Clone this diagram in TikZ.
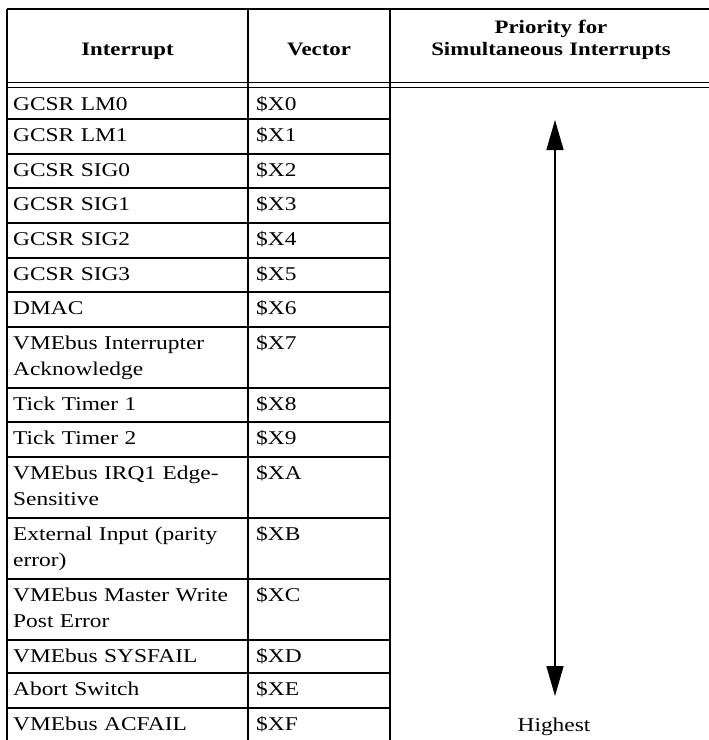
\documentclass[tikz,border=0pt]{standalone}
\usepackage{fontspec}
\setmainfont{Liberation Serif}[FakeStretch=1.2]
\usetikzlibrary{arrows.meta}
\tikzset{bigtip/.tip={Triangle[width=17pt,length=30pt]}}
\begin{document}
\begin{tikzpicture}[x=1pt,y=-1pt,
  rule/.style={line width=1.4pt},
  cell/.style={anchor=base west, inner sep=0pt, text width=232pt, align=left, font=\fontsize{19.5}{26}\selectfont},
  vcell/.style={anchor=base west, inner sep=0pt, font=\fontsize{19.5}{26}\selectfont},
  head/.style={anchor=base, inner sep=0pt, text width=320pt, align=center, font=\fontsize{19}{21.5}\selectfont\bfseries},
]
\useasboundingbox (0,0) rectangle (709,740);
% frame
\draw[rule] (7,9) -- (709,9);
\draw[line width=1.1pt] (7,82.5) -- (709,82.5);
\draw[line width=1.1pt] (7,87.5) -- (709,87.5);
\draw[rule] (7,9) -- (7,740);
\draw[rule] (248,9) -- (248,740);
\draw[rule] (390,9) -- (390,740);
\foreach \y in {119,154,188,223,258,292,327,388,422,457,518,579,640,673,708}
  \draw[rule] (7,\y) -- (390,\y);
% header
\node[head] (h1) at (127.5,55) {Interrupt};
\node[head] (h2) at (319,55) {Vector};
\node[head] (h3) at (551,33.5) {Priority for\\Simultaneous Interrupts};
% rows
\foreach \t/\n/\v/\k in {
  88/GCSR LM0/\$X0/r0,
  119/GCSR LM1/\$X1/r1,
  154/GCSR SIG0/\$X2/r2,
  188/GCSR SIG1/\$X3/r3,
  223/GCSR SIG2/\$X4/r4,
  258/GCSR SIG3/\$X5/r5,
  292/DMAC/\$X6/r6,
  327/{VMEbus Interrupter\\Acknowledge}/\$X7/r7,
  388/Tick Timer 1/\$X8/r8,
  422/Tick Timer 2/\$X9/r9,
  457/{VMEbus IRQ1 Edge-\\Sensitive}/\$XA/r10,
  518/{External Input (parity\\error)}/\$XB/r11,
  579/{VMEbus Master Write\\Post Error}/\$XC/r12,
  640/VMEbus SYSFAIL/\$XD/r13,
  673/Abort Switch/\$XE/r14,
  708/VMEbus ACFAIL/\$XF/r15}
{
  \node[cell] (\k n) at (13,\t+22.5) {\n};
  \node[vcell] (\k v) at (256,\t+22.5) {\v};
}
% priority arrow
\coordinate (atop) at (555,120);
\coordinate (abot) at (555,696);
\draw[line width=1.5pt, bigtip-bigtip] (atop) -- (abot);
\node[vcell, anchor=base] (high) at (554,731) {Highest};
\end{tikzpicture}
\end{document}
